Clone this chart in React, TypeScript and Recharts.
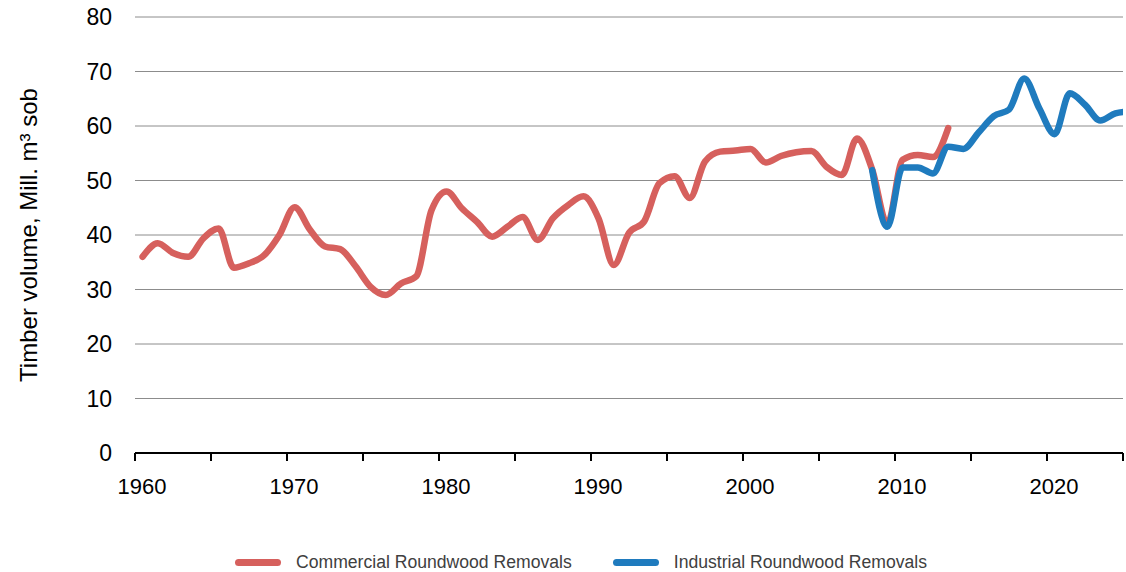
import { LineChart, Line, XAxis, YAxis, CartesianGrid, Label } from 'recharts'

// annual values (Mill. m3 sob)
const commercialYears = [
  1960, 1961, 1962, 1963, 1964, 1965, 1966, 1967, 1968, 1969,
  1970, 1971, 1972, 1973, 1974, 1975, 1976, 1977, 1978, 1979,
  1980, 1981, 1982, 1983, 1984, 1985, 1986, 1987, 1988, 1989,
  1990, 1991, 1992, 1993, 1994, 1995, 1996, 1997, 1998, 1999,
  2000, 2001, 2002, 2003, 2004, 2005, 2006, 2007, 2008, 2009,
  2010, 2011, 2012, 2013,
]
const commercial = [
  36.0, 38.5, 36.7, 36.0, 39.4, 41.2, 34.0, 34.8, 36.3, 40.0,
  45.1, 41.0, 37.9, 37.4, 34.3, 30.5, 29.0, 31.1, 32.4, 44.5,
  48.0, 44.9, 42.4, 39.7, 41.5, 43.3, 39.1, 43.1, 45.5, 47.1,
  43.0, 34.5, 40.4, 42.5, 49.5, 50.8, 46.8, 53.5, 55.3, 55.5,
  55.8, 53.3, 54.5, 55.2, 55.4, 52.5, 51.0, 57.7, 52.0, 42.0,
  53.8, 54.7, 54.3, 59.6,
]

const industrialYears = [
  2008, 2009, 2010, 2011, 2012, 2013, 2014, 2015, 2016, 2017,
  2018, 2019, 2020, 2021, 2022, 2023, 2024, 2025,
]
const industrial = [
  51.9, 41.5, 52.4, 52.4, 51.3, 56.2, 55.8, 58.8, 61.8, 63.0,
  68.7, 63.2, 58.5, 66.0, 63.9, 61.0, 62.3, 62.7,
]

const xTicks = [1960, 1965, 1970, 1975, 1980, 1985, 1990, 1995, 2000, 2005, 2010, 2015, 2020, 2025]
const yTicks = [0, 10, 20, 30, 40, 50, 60, 70, 80]

const RED = '#d6605d'
const BLUE = '#1f7bbe'
const FONT = '"Liberation Sans", Arial, sans-serif'

// values are yearly totals, plotted at mid-year
const allYears = Array.from(new Set([...commercialYears, ...industrialYears])).sort((a, b) => a - b)
const data = allYears.map(y => {
  const ci = commercialYears.indexOf(y)
  const ii = industrialYears.indexOf(y)
  return {
    x: y + 0.5,
    commercial: ci >= 0 ? commercial[ci] : null,
    industrial: ii >= 0 ? industrial[ii] : null,
  }
})

const LegendItem = ({ color, label }: { color: string; label: string }) => (
  <div style={{ display: 'flex', alignItems: 'center' }}>
    <div style={{ width: 46, height: 7, borderRadius: 3.5, background: color, marginRight: 15 }} />
    <span style={{ fontSize: 17.6, color: '#404040' }}>{label}</span>
  </div>
)

export default function App() {
  return (
    <div style={{ position: 'absolute', left: 0, top: 0, width: 1126, height: 572, background: '#fff', fontFamily: FONT }}>
      <LineChart width={1126} height={572} data={data} margin={{ top: 17, right: 3, bottom: 79, left: 0 }}>
        <CartesianGrid vertical={false} stroke="#8c8c8c" strokeWidth={1} />
        <XAxis
          dataKey="x"
          type="number"
          domain={[1960, 2025]}
          allowDataOverflow
          ticks={xTicks}
          interval={0}
          tickFormatter={(v: number) => (v % 10 === 0 ? String(v) : '')}
          tick={{ fill: '#000', fontSize: 22, fontFamily: FONT, dx: 7 }}
          axisLine={{ stroke: '#000', strokeWidth: 2 }}
          tickLine={{ stroke: '#000', strokeWidth: 2 }}
          tickSize={8}
          tickMargin={17}
          height={40}
        />
        <YAxis
          type="number"
          domain={[0, 80]}
          ticks={yTicks}
          interval={0}
          axisLine={false}
          tickLine={false}
          tickSize={0}
          tickMargin={23}
          width={135}
          tick={{ fill: '#000', fontSize: 23, fontFamily: FONT }}
        >
          <Label
            value="Timber  volume, Mill. m³ sob"
            angle={-90}
            position="insideLeft"
            offset={28}
            style={{ textAnchor: 'middle', fontSize: 24, fill: '#000', fontFamily: FONT }}
          />
        </YAxis>
        <Line
          type="monotone"
          dataKey="commercial"
          name="Commercial Roundwood Removals"
          stroke={RED}
          strokeWidth={6.5}
          dot={false}
          strokeLinecap="round"
          isAnimationActive={false}
        />
        <Line
          type="monotone"
          dataKey="industrial"
          name="Industrial Roundwood Removals"
          stroke={BLUE}
          strokeWidth={6.5}
          dot={false}
          strokeLinecap="round"
          isAnimationActive={false}
        />
      </LineChart>
      <div style={{ position: 'absolute', top: 552, left: 235, display: 'flex', gap: 41 }}>
        <LegendItem color={RED} label="Commercial Roundwood Removals" />
        <LegendItem color={BLUE} label="Industrial Roundwood Removals" />
      </div>
    </div>
  )
}
